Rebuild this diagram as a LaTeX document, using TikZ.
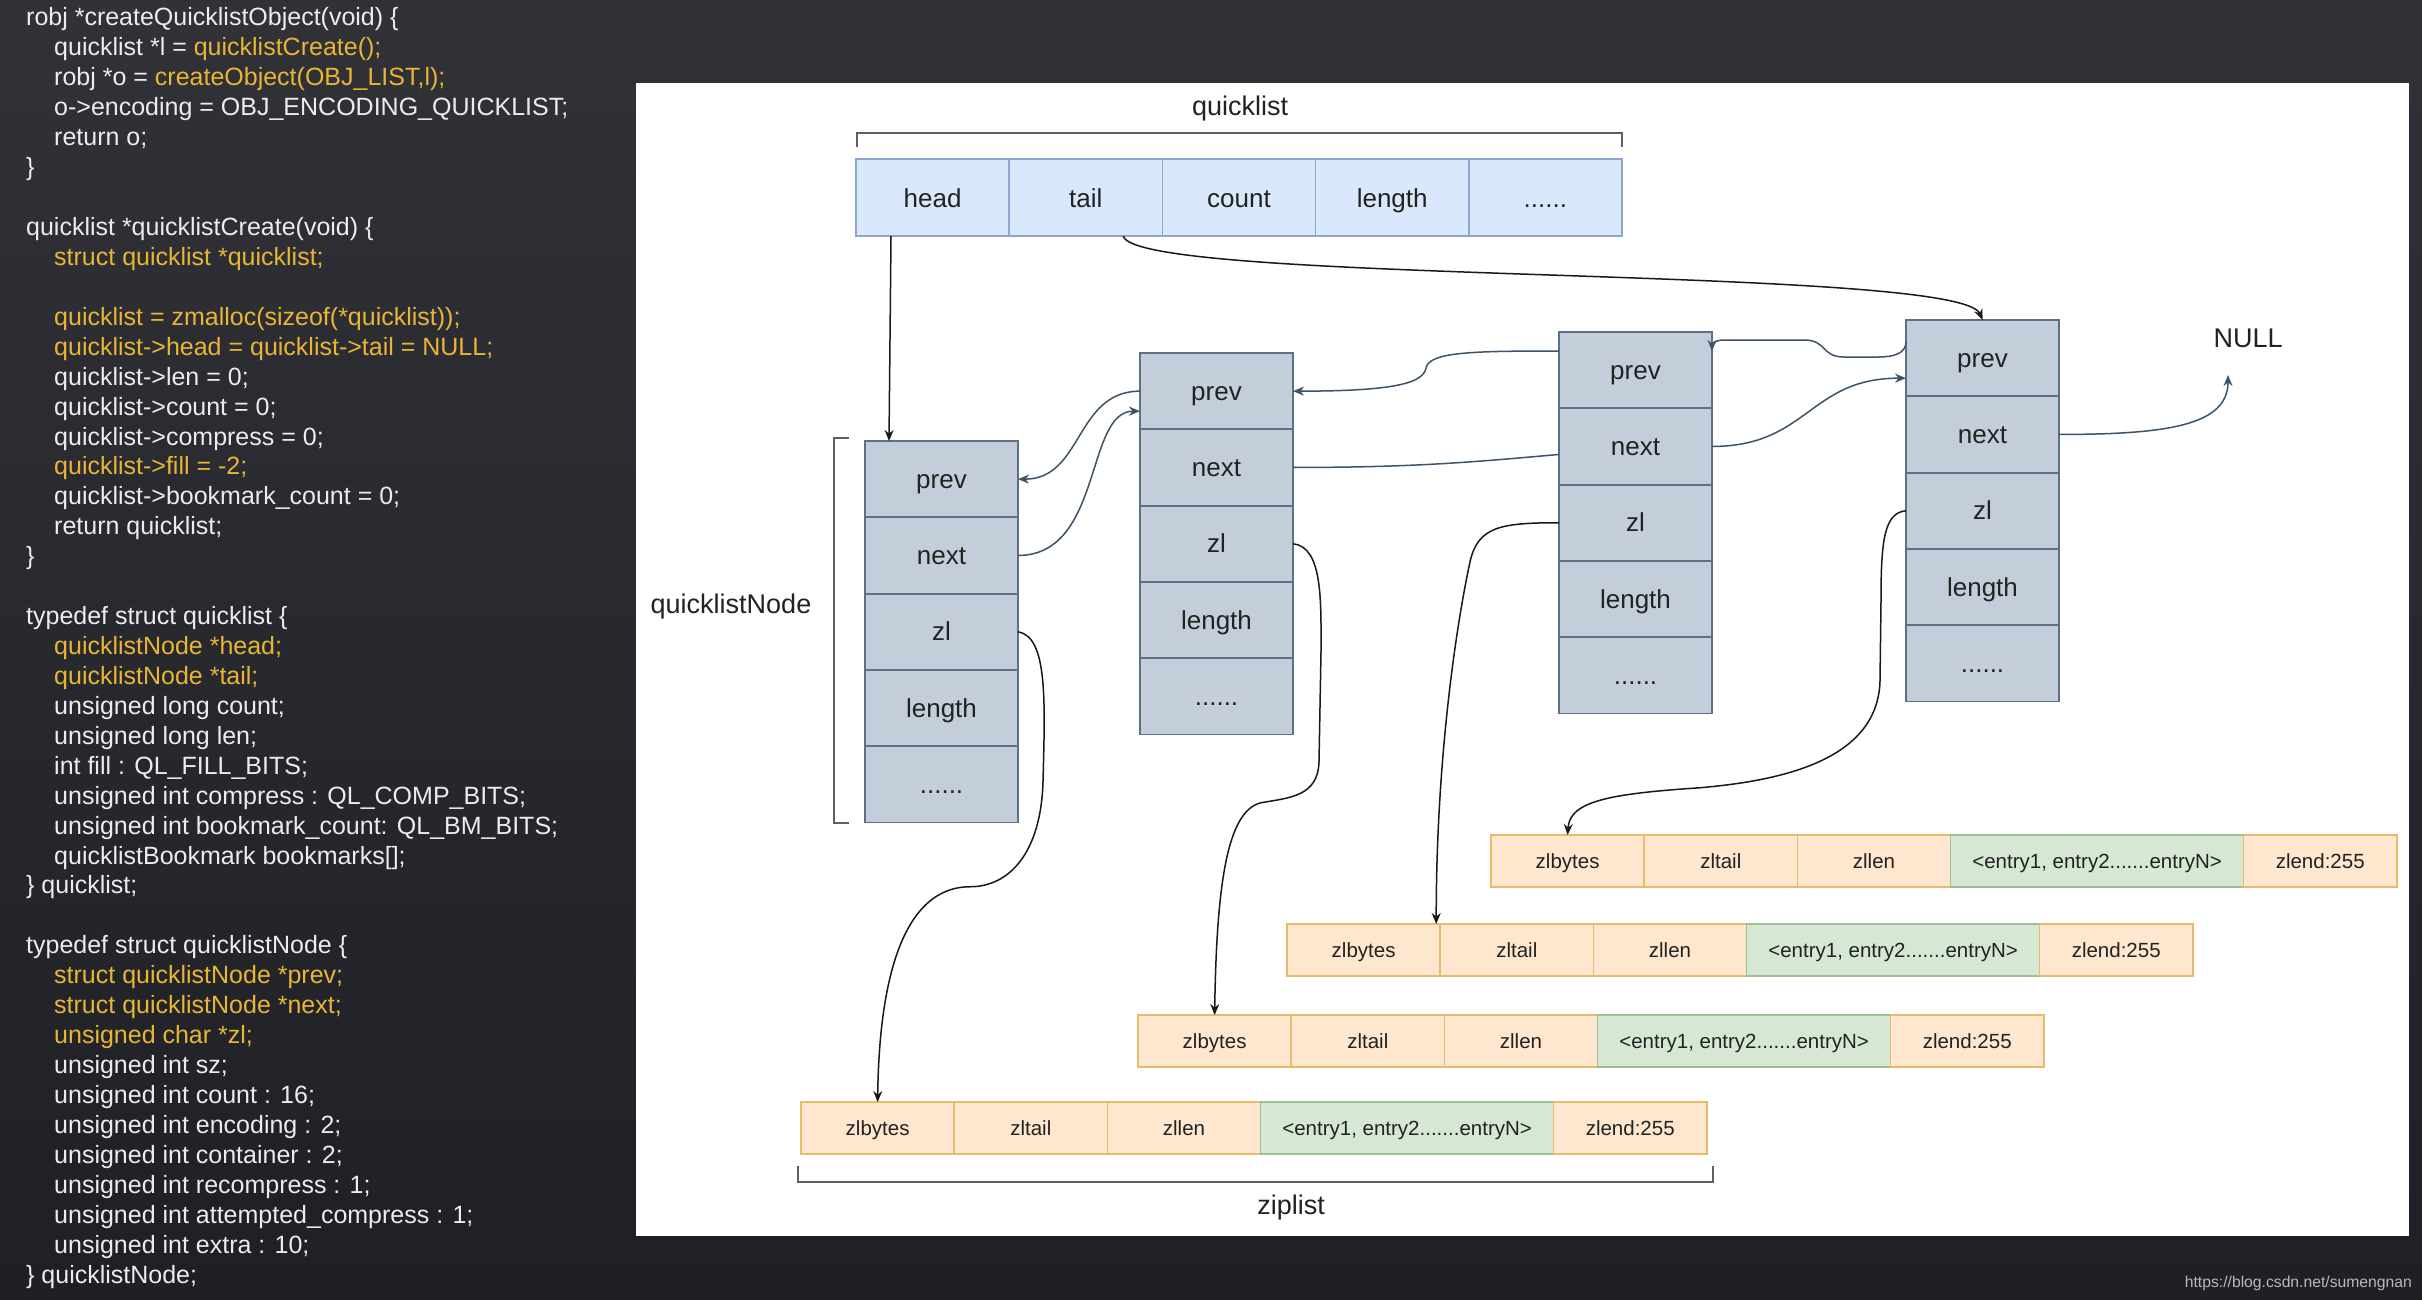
\documentclass[tikz,border=0pt]{standalone}
\usepackage{fontspec}
\setmainfont{Liberation Sans}
\usetikzlibrary{calc,arrows.meta}
\definecolor{bgtop}{RGB}{48,50,56}
\definecolor{bgbot}{RGB}{30,32,37}
\definecolor{codewhite}{RGB}{236,236,236}
\definecolor{codeyellow}{RGB}{232,182,52}
\definecolor{qfill}{RGB}{218,232,252}
\definecolor{qborder}{RGB}{140,166,205}
\definecolor{nfill}{RGB}{196,206,218}
\definecolor{nborder}{RGB}{92,112,134}
\definecolor{zfill}{RGB}{254,231,206}
\definecolor{zborder}{RGB}{232,186,108}
\definecolor{efill}{RGB}{214,232,212}
\definecolor{eborder}{RGB}{160,190,150}
\definecolor{ptrcol}{RGB}{62,82,104}
\definecolor{blkcol}{RGB}{25,25,25}
\definecolor{brkcol}{RGB}{95,95,95}
\definecolor{txtcol}{RGB}{34,34,34}
\newcommand\yel[1]{{\color{codeyellow}#1}}
\begin{document}
\begin{tikzpicture}[x=1pt,y=-1pt,
  code/.style={anchor=base west,inner sep=0pt,text=codewhite,font=\fontsize{25}{30}\selectfont},
  cellbase/.style={anchor=north west,inner sep=0pt,outer sep=0pt,text=txtcol},
  qcell/.style={cellbase,draw=qborder,fill=qfill,line width=1.6pt,minimum width=153.2pt,minimum height=77pt,font=\fontsize{26}{30}\selectfont,text height=24pt,text depth=4pt},
  ncell/.style={cellbase,draw=nborder,fill=nfill,line width=1.8pt,minimum width=153pt,minimum height=76.3pt,font=\fontsize{26}{30}\selectfont,text height=22pt,text depth=4pt},
  zcell/.style={cellbase,draw=zborder,fill=zfill,line width=1.6pt,minimum width=153.2pt,minimum height=52pt,font=\fontsize{20.5}{24}\selectfont,text height=18pt,text depth=3pt},
  ecell/.style={zcell,draw=eborder,fill=efill,minimum width=293pt},
  lbl/.style={inner sep=0pt,text=txtcol,font=\fontsize{27}{30}\selectfont},
  ptrline/.style={draw=ptrcol,line width=1.5pt},
  ptr/.style={ptrline,-{Stealth[length=11pt,width=9pt]}},
  blk/.style={draw=blkcol,line width=1.5pt,-{Stealth[length=11pt,width=9pt]}},
  brk/.style={draw=brkcol,line width=2pt}
]
\useasboundingbox (0,0) rectangle (2422,1300);
\shade[top color=bgtop,bottom color=bgbot] (0,0) rectangle (2422,1300);
\fill[white] (636,83) rectangle (2409,1236);

% ---------- code ----------
\newcommand\cl[3]{\node[code] (c#1) at (#2,{26+(#1-1)*29.93}) {#3};}
\cl{1}{26}{robj *createQuicklistObject(void) \{}
\cl{2}{54}{quicklist *l = \yel{quicklistCreate();}}
\cl{3}{54}{robj *o = \yel{createObject(OBJ\_LIST,l);}}
\cl{4}{54}{o->encoding = OBJ\_ENCODING\_QUICKLIST;}
\cl{5}{54}{return o;}
\cl{6}{26}{\}}
\cl{8}{26}{quicklist *quicklistCreate(void) \{}
\cl{9}{54}{\yel{struct quicklist *quicklist;}}
\cl{11}{54}{\yel{quicklist = zmalloc(sizeof(*quicklist));}}
\cl{12}{54}{\yel{quicklist->head = quicklist->tail = NULL;}}
\cl{13}{54}{quicklist->len = 0;}
\cl{14}{54}{quicklist->count = 0;}
\cl{15}{54}{quicklist->compress = 0;}
\cl{16}{54}{\yel{quicklist->fill = -2;}}
\cl{17}{54}{quicklist->bookmark\_count = 0;}
\cl{18}{54}{return quicklist;}
\cl{19}{26}{\}}
\cl{21}{26}{typedef struct quicklist \{}
\cl{22}{54}{\yel{quicklistNode *head;}}
\cl{23}{54}{\yel{quicklistNode *tail;}}
\cl{24}{54}{unsigned long count;}
\cl{25}{54}{unsigned long len;}
\cl{26}{54}{int fill : QL\_FILL\_BITS;}
\cl{27}{54}{unsigned int compress : QL\_COMP\_BITS;}
\cl{28}{54}{unsigned int bookmark\_count: QL\_BM\_BITS;}
\cl{29}{54}{quicklistBookmark bookmarks[];}
\cl{30}{26}{\} quicklist;}
\cl{32}{26}{typedef struct quicklistNode \{}
\cl{33}{54}{\yel{struct quicklistNode *prev;}}
\cl{34}{54}{\yel{struct quicklistNode *next;}}
\cl{35}{54}{\yel{unsigned char *zl;}}
\cl{36}{54}{unsigned int sz;}
\cl{37}{54}{unsigned int count : 16;}
\cl{38}{54}{unsigned int encoding : 2;}
\cl{39}{54}{unsigned int container : 2;}
\cl{40}{54}{unsigned int recompress : 1;}
\cl{41}{54}{unsigned int attempted\_compress : 1;}
\cl{42}{54}{unsigned int extra : 10;}
\cl{43}{26}{\} quicklistNode;}

% ---------- quicklist struct ----------
\node[lbl] (lq) at (1240,109) {quicklist};
\draw[brk] (857,147) -- (857,133) -- (1622,133) -- (1622,147);
\node[qcell] (q-head) at (856,159) {head};
\node[qcell] (q-tail) at (q-head.north east) {tail};
\node[qcell] (q-count) at (q-tail.north east) {count};
\node[qcell] (q-length) at (q-count.north east) {length};
\node[qcell] (q-more) at (q-length.north east) {......};

% ---------- quicklist nodes ----------
\newcommand\qnode[3]{%
  \node[ncell] (n#1-prev) at (#2,#3) {prev};
  \node[ncell] (n#1-next) at (n#1-prev.south west) {next};
  \node[ncell] (n#1-zl) at (n#1-next.south west) {zl};
  \node[ncell] (n#1-length) at (n#1-zl.south west) {length};
  \node[ncell] (n#1-more) at (n#1-length.south west) {......};}
\qnode{1}{865}{441}
\qnode{2}{1140}{353}
\qnode{3}{1559}{332}
\qnode{4}{1906}{320}
\node[lbl] (lqn) at (731,607) {quicklistNode};
\draw[brk] (849,438) -- (834,438) -- (834,823) -- (849,823);
\node[lbl] (null) at (2248,338) {NULL};

% ---------- ziplists ----------
\newcommand\zrow[3]{%
  \node[zcell] (z#1-1) at (#2,#3) {zlbytes};
  \node[zcell] (z#1-2) at (z#1-1.north east) {zltail};
  \node[zcell] (z#1-3) at (z#1-2.north east) {zllen};
  \node[ecell] (z#1-4) at (z#1-3.north east) {<entry1, entry2.......entryN>};
  \node[zcell] (z#1-5) at (z#1-4.north east) {zlend:255};}
\zrow{1}{1491}{835}
\zrow{2}{1287}{924}
\zrow{3}{1138}{1015}
\zrow{4}{801}{1102}
\draw[brk] (798,1166) -- (798,1182) -- (1713,1182) -- (1713,1166);
\node[lbl] (lz) at (1291,1208) {ziplist};

% ---------- connectors ----------
\draw[blk] ($(q-head.south west)+(35,0)$) -- ($(n1-prev.north west)+(24,0)$);
\draw[blk] ($(q-tail.south west)+(114,0)$) .. controls +(12,49) and +(-23,-55) .. (n4-prev.north);

\draw[ptr] (n2-prev.west) .. controls +(-65,0) and +(65,0) .. (n1-prev.east);
\draw[ptr] (n1-next.east) .. controls +(85,0) and +(-55,0) .. ($(n2-prev.west)+(0,20)$);
\draw[ptr] ($(n3-prev.north west)+(0,19)$) .. controls +(-89,0) and +(3,-16) .. ($(n2-prev.east)+(133,-23)$)
   .. controls +(-3,14) and +(106,0) .. (n2-prev.east);
\draw[ptrline] (n2-next.east) .. controls +(120,0) and +(-90,8) .. ($(n3-next.west)+(0,8)$);
\draw[ptr] ($(n4-prev.north west)+(0,22)$) .. controls +(0,12) and +(13,0) .. ($(n3-prev.north east)+(167,25)$)
   -- ($(n3-prev.north east)+(132,25)$) .. controls +(-23,0) and +(23,0) .. ($(n3-prev.north east)+(92,8)$)
   -- ($(n3-prev.north east)+(12,8)$) .. controls +(-9,0) and +(0,-7) .. ($(n3-prev.north east)+(0,19)$);
\draw[ptr] (n3-next.east) .. controls +(96,0) and +(-97,0) .. ($(n4-prev.west)+(0,20)$);
\draw[ptr] (n4-next.east) .. controls +(110,0) and +(0,50) .. ($(null.center)+(-20,37)$);

\draw[blk] (n1-zl.east) .. controls +(30,5) and +(2,-80) .. ($(n1-zl.east)+(25,150)$)
   .. controls +(-2,70) and +(40,0) .. ($(n1-zl.east)+(-48,255)$)
   .. controls +(-55,0) and +(2,-152) .. (z4-1.north);
\draw[blk] (n2-zl.east) .. controls +(30,3) and +(0,-50) .. ($(n2-zl.east)+(28,108)$)
   -- ($(n2-zl.east)+(26,218)$) .. controls +(-1,35) and +(28,-5) .. ($(n2-zl.east)+(-32,259)$)
   .. controls +(-34,8) and +(2,-130) .. (z3-1.north);
\draw[blk] (n3-zl.west) .. controls +(-59,0) and +(8,-35) .. ($(n3-zl.west)+(-89,39)$)
   .. controls +(-15,70) and +(0,-160) .. ($(z2-1.north east)+(-4,0)$);
\draw[blk] (n4-zl.west) .. controls +(-22,2) and +(0,-60) .. ($(n4-zl.west)+(-25,90)$)
   -- ($(n4-zl.west)+(-26,170)$) .. controls +(-2,80) and +(80,-7) .. ($(n4-zl.west)+(-206,277)$)
   .. controls +(-90,6) and +(2,-34) .. (z1-1.north);

% ---------- watermark ----------
\node[anchor=base east,inner sep=0pt,text={rgb,255:red,185;green,185;blue,185},font=\fontsize{15.7}{18}\selectfont] (wm) at (2412,1287) {https://blog.csdn.net/sumengnan};
\end{tikzpicture}
\end{document}
